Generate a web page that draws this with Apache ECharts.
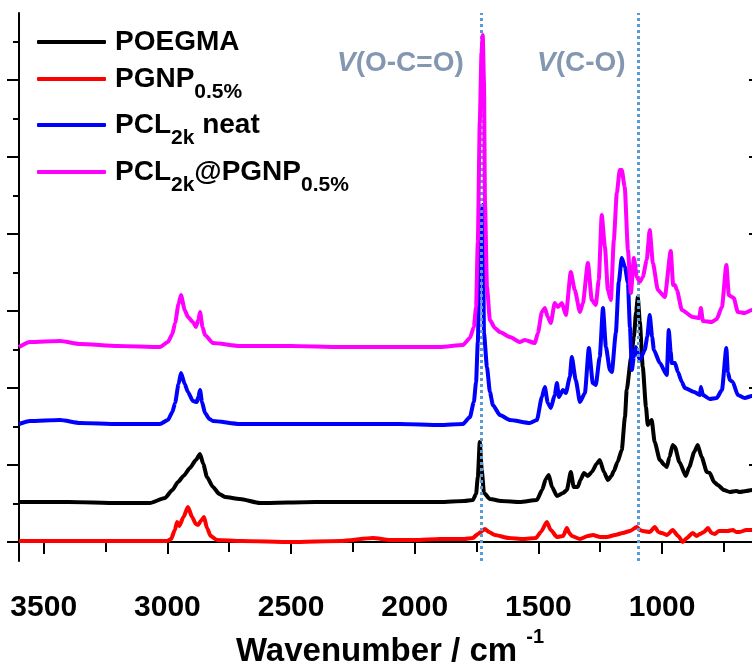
<!DOCTYPE html>
<html><head><meta charset="utf-8">
<script src="https://cdn.jsdelivr.net/npm/echarts@6/dist/echarts.min.js"></script>
<style>html,body{margin:0;padding:0;background:#fff}#c{width:752px;height:668px}</style>
</head><body><div id="c"></div><script>
// ---- data (wavenumber cm^-1, offset intensity a.u.) ----
const xMajor = [1000, 1500, 2000, 2500, 3000, 3500];
const xMinor = [750, 1250, 1750, 2250, 2750, 3250];
const xTop = [750, 1000, 1250, 1500, 1750, 2000, 2250, 2500, 2750, 3000, 3250, 3500];
const yMajor = [0, 77, 154, 231, 308, 385, 462];
const yMinor = [38.5, 115.5, 192.5, 269.5, 346.5, 423.5, 500.5];
const bandLines = [1733, 1098];
const seriesNames = ['POEGMA', 'PGNP0.5%', 'PCL2k neat', 'PCL2k@PGNP0.5%'];

const poegma = [[3600,40],[3400,40],[3200,39],[3071,39],[3010,44],[2980,52],[2957,60],[2935,66],[2909,74],[2885,82],[2868,88],[2855,78],[2840,65],[2816,55],[2790,48],[2767,45],[2707,43],[2626,39],[2400,40],[2200,40],[2060,40],[1898,40],[1800,41],[1765,42],[1752,48],[1745,65],[1737,100],[1729,72],[1720,49],[1696,43],[1650,41],[1575,40],[1506,42],[1485,52],[1470,63],[1458,67],[1445,55],[1425,46],[1400,49],[1385,52],[1369,70],[1357,55],[1341,55],[1330,62],[1316,69],[1300,66],[1284,70],[1265,78],[1252,82],[1235,70],[1219,62],[1205,66],[1195,71],[1180,80],[1163,92],[1150,125],[1143,152],[1125,185],[1114,205],[1105,230],[1098,245],[1090,220],[1078,175],[1065,135],[1058,117],[1050,120],[1042,122],[1030,100],[1009,82],[990,77],[981,75],[970,85],[957,97],[948,95],[930,80],[904,66],[890,75],[870,90],[856,97],[840,85],[819,70],[807,69],[790,60],[775,57],[750,52],[726,50],[700,51],[686,50],[660,51],[637,52],[600,52]];

const pgnp = [[3600,1],[3400,1],[3200,1],[3000,1],[2985,3],[2970,12],[2961,20],[2952,16],[2935,25],[2917,35],[2900,25],[2885,18],[2876,17],[2865,21],[2852,25],[2840,14],[2825,6],[2800,2],[2700,1],[2500,0],[2300,1],[2169,4],[2100,2],[2000,2],[1898,3],[1800,3],[1765,4],[1745,8],[1716,13],[1700,10],[1676,7],[1620,4],[1563,3],[1510,4],[1490,10],[1466,20],[1450,12],[1425,5],[1400,6],[1385,14],[1375,9],[1365,6],[1332,3],[1300,6],[1280,7],[1250,5],[1223,5],[1190,7],[1159,9],[1130,11],[1102,15],[1090,12],[1078,11],[1050,10],[1029,15],[1015,10],[1001,9],[980,7],[957,12],[935,6],[916,0],[900,4],[876,9],[860,6],[847,8],[830,10],[815,14],[800,9],[787,8],[770,11],[754,11],[735,11],[714,12],[700,10],[686,10],[660,12],[637,12],[600,11]];

const pclNeat = [[3600,118],[3556,121],[3434,122],[3353,119],[3200,118],[3030,118],[2998,122],[2980,130],[2969,139],[2955,158],[2945,169],[2930,158],[2917,150],[2897,141],[2881,140],[2875,145],[2868,152],[2860,140],[2848,129],[2830,123],[2816,121],[2707,118],[2500,118],[2300,118],[2060,118],[1898,117],[1805,118],[1777,125],[1761,140],[1752,160],[1745,200],[1737,290],[1730,330],[1725,337],[1720,209],[1708,175],[1696,150],[1684,137],[1656,127],[1615,122],[1535,119],[1506,122],[1486,145],[1474,155],[1462,139],[1450,134],[1434,147],[1425,159],[1417,145],[1401,152],[1389,149],[1373,165],[1365,185],[1349,162],[1332,140],[1312,149],[1296,194],[1280,159],[1268,157],[1252,185],[1239,234],[1227,195],[1211,172],[1203,170],[1187,209],[1175,260],[1163,284],[1150,275],[1138,259],[1130,215],[1122,172],[1114,185],[1106,195],[1090,182],[1070,192],[1060,205],[1050,227],[1040,205],[1033,192],[1009,179],[981,167],[973,212],[965,190],[961,179],[948,179],[936,170],[920,160],[908,154],[870,150],[847,147],[843,155],[835,147],[807,143],[779,144],[758,152],[740,194],[734,170],[726,162],[714,160],[694,147],[666,144],[637,146],[600,146]];

const pclPgnp = [[3600,195],[3556,200],[3434,201],[3353,198],[3200,196],[3030,195],[2998,200],[2980,208],[2969,219],[2955,238],[2945,247],[2930,232],[2917,225],[2897,220],[2885,215],[2875,222],[2868,230],[2858,215],[2848,207],[2816,199],[2707,196],[2500,196],[2300,195],[2060,195],[1898,195],[1805,197],[1777,204],[1761,215],[1752,235],[1745,300],[1737,420],[1730,490],[1725,507],[1720,460],[1716,340],[1708,255],[1696,222],[1676,214],[1656,210],[1615,205],[1575,200],[1555,202],[1514,199],[1502,209],[1486,230],[1474,234],[1462,225],[1450,219],[1434,239],[1421,235],[1405,239],[1389,227],[1369,270],[1353,252],[1332,230],[1320,239],[1300,279],[1284,242],[1268,237],[1256,262],[1244,327],[1231,295],[1219,252],[1207,242],[1195,302],[1183,349],[1171,372],[1163,372],[1151,355],[1138,292],[1126,249],[1114,284],[1102,265],[1090,260],[1078,265],[1062,282],[1050,312],[1037,279],[1017,252],[989,245],[965,291],[955,257],[948,257],[940,252],[920,232],[876,225],[850,224],[843,234],[835,221],[799,220],[779,223],[758,235],[740,277],[730,247],[718,245],[710,244],[694,230],[666,229],[637,232],[600,232]];

// ---- styling ----
const SANS = '"Liberation Sans", Arial, sans-serif';
const colors = ['#000000', '#ff0000', '#0000ff', '#ff00ff'];
const dataSets = [poegma, pgnp, pclNeat, pclPgnp];
const legendText = {
  'POEGMA': '{f|POEGMA}',
  'PGNP0.5%': '{f|PGNP}{s|0.5%}',
  'PCL2k neat': '{f|PCL}{s|2k}{m| neat}',
  'PCL2k@PGNP0.5%': '{f|PCL}{s|2k}{m|@PGNP}{s|0.5%}'
};
const legendCenters = [42, 79, 125, 172];
const legendRich = {
  f: {fontFamily: SANS, fontWeight: 'bold', fontSize: 28, lineHeight: 28, color: '#000', padding: [0,0,0,4]},
  m: {fontFamily: SANS, fontWeight: 'bold', fontSize: 28, lineHeight: 28, color: '#000'},
  s: {fontFamily: SANS, fontWeight: 'bold', fontSize: 21, lineHeight: 21, color: '#000', padding: [26,0,0,0]}
};

const axisLine = {show: true, lineStyle: {color: '#000', width: 2}};
const baseX = {type: 'value', min: 600, max: 3600, inverse: true, splitLine: {show: false}};
const baseY = {type: 'value', min: -19, max: 529, splitLine: {show: false}, axisLabel: {show: false}};

const chart = echarts.init(document.getElementById('c'), null, {renderer: 'canvas'});
chart.setOption({
  animation: false,
  backgroundColor: '#fff',
  grid: {left: 19, right: -9, top: 13, bottom: 107, containLabel: false, outerBoundsMode: 'none'},
  xAxis: [
    Object.assign({}, baseX, {
      position: 'bottom', axisLine,
      axisTick: {show: true, inside: false, length: 12, lineStyle: {color: '#000', width: 2}, customValues: xMajor},
      axisLabel: {show: true, customValues: xMajor, margin: 32, formatter: (v) => String(v),
        fontFamily: SANS, fontWeight: 'bold', fontSize: 30, color: '#000'},
      name: '{t|Wavenumber / cm }{p|-1}', nameLocation: 'middle', nameGap: 60,
      nameTextStyle: {rich: {
        t: {fontFamily: SANS, fontWeight: 'bold', fontSize: 33, lineHeight: 34, color: '#000'},
        p: {fontFamily: SANS, fontWeight: 'bold', fontSize: 20, lineHeight: 20, color: '#000', padding: [0,0,28,0]}
      }}
    }),
    Object.assign({}, baseX, {
      position: 'bottom', axisLine: {show: false},
      axisTick: {show: true, inside: false, length: 6, lineStyle: {color: '#000', width: 2}, customValues: xMinor},
      axisLabel: {show: false}
    }),
    Object.assign({}, baseX, {
      position: 'top', axisLine,
      axisTick: {show: true, inside: true, length: 10, lineStyle: {color: '#000', width: 2}, customValues: xTop},
      axisLabel: {show: false}
    })
  ],
  yAxis: [
    Object.assign({}, baseY, {
      position: 'left', axisLine,
      axisTick: {show: true, inside: false, length: 12, lineStyle: {color: '#000', width: 2}, customValues: yMajor}
    }),
    Object.assign({}, baseY, {
      position: 'left', axisLine: {show: false},
      axisTick: {show: true, inside: false, length: 6, lineStyle: {color: '#000', width: 2}, customValues: yMinor}
    }),
    Object.assign({}, baseY, {
      position: 'right', axisLine,
      axisTick: {show: true, inside: true, length: 12, lineStyle: {color: '#000', width: 2}, customValues: yMajor}
    })
  ],
  legend: seriesNames.map((n, i) => ({
    data: [n], left: 37, top: legendCenters[i] - (i === 0 ? 14 : 23.5),
    orient: 'vertical', padding: 0, itemGap: 0, itemWidth: 69, itemHeight: 4,
    icon: 'roundRect', selectedMode: false,
    formatter: (name) => legendText[name],
    textStyle: {rich: legendRich}
  })),
  graphic: [
    {type: 'text', left: 337, top: 49, z: 100, style: {
      text: '{i|V}{n|(O-C=O)}',
      rich: {
        i: {fontFamily: SANS, fontWeight: 'bold', fontStyle: 'italic', fontSize: 28, fill: '#8497B0'},
        n: {fontFamily: SANS, fontWeight: 'bold', fontSize: 28, fill: '#8497B0'}
      }
    }},
    {type: 'text', left: 537, top: 49, z: 100, style: {
      text: '{i|V}{n|(C-O)}',
      rich: {
        i: {fontFamily: SANS, fontWeight: 'bold', fontStyle: 'italic', fontSize: 28, fill: '#8497B0'},
        n: {fontFamily: SANS, fontWeight: 'bold', fontSize: 28, fill: '#8497B0'}
      }
    }}
  ],
  series: seriesNames.map((n, i) => ({
    type: 'line', name: n, data: dataSets[i], xAxisIndex: 0, yAxisIndex: 0,
    symbol: 'none', smooth: 0.2, smoothMonotone: 'x', z: 2 + i,
    lineStyle: {color: colors[i], width: 4}, itemStyle: {color: colors[i]}
  })).concat([{
    type: 'line', name: 'bands', data: [], xAxisIndex: 0, yAxisIndex: 0, z: 20,
    markLine: {
      silent: true, symbol: ['none', 'none'], label: {show: false},
      lineStyle: {color: '#5B9BD5', width: 3, type: [3, 3], cap: 'butt', opacity: 1},
      emphasis: {disabled: true},
      data: bandLines.map(v => ({xAxis: v}))
    }
  }])
});
</script></body></html>
